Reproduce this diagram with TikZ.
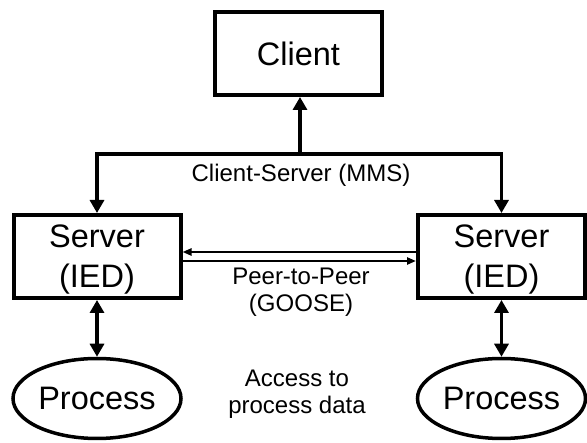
\documentclass[tikz,border=0pt]{standalone}
\usepackage{fontspec}
\setmainfont{Liberation Sans}
\usetikzlibrary{arrows.meta, shapes.geometric}

\tikzset{
  box/.style={draw, line width=4pt, minimum width=167pt, minimum height=83pt,
    inner sep=0pt, align=center, text depth=0pt, font=\fontsize{32.5}{40}\selectfont},
  proc/.style={draw, ellipse, line width=3.5pt, minimum width=168pt,
    minimum height=80pt, inner sep=0pt, font=\fontsize{32.5}{40}\selectfont},
  lbl/.style={anchor=base, align=center, font=\fontsize{24}{27}\selectfont},
  link/.style={line width=3.2pt, -{Triangle[length=13pt,width=14pt]}},
  both/.style={line width=3.2pt, {Triangle[length=13pt,width=14pt]}-{Triangle[length=13pt,width=14pt]}},
  peer/.style={line width=2.3pt, -{Triangle[length=9pt,width=7pt]}}
}

\begin{document}
\begin{tikzpicture}[x=1pt, y=-1pt]
	\useasboundingbox (0,0) rectangle (587,443);
	
	% boxes
	\node[box] (client) at (298.5,53.5) {Client};
	\node[box] (srvL) at (97,256.5) {Server\\(IED)};
	\node[box] (srvR) at (501.5,256.5) {Server\\(IED)};
	\node[proc] (procL) at (97,398.5) {Process};
	\node[proc] (procR) at (501.5,398.5) {Process};
	
	% client-server bus
	\coordinate (bus) at (300,154);
	\draw[link] (bus) -- (client.south -| bus);
	\draw[link] (bus) -| (srvL.north);
	\draw[link] (bus) -| (srvR.north);
	
	% peer to peer
	\draw[peer] ([yshift=4.5pt]srvR.west) -- ([yshift=4.5pt]srvL.east);
	\draw[peer] ([yshift=-4.5pt]srvL.east) -- ([yshift=-4.5pt]srvR.west);
	
	% process access
	\draw[both] (srvL) -- (procL);
	\draw[both] (srvR) -- (procR);
	
	\node[lbl] (csLbl) at (301,182) {Client-Server (MMS)};
	\node[lbl] (ppLbl) at (301,312) {Peer-to-Peer\\(GOOSE)};
	\node[lbl] (accLbl) at (297,414) {Access to\\process data};
\end{tikzpicture}
\end{document}
